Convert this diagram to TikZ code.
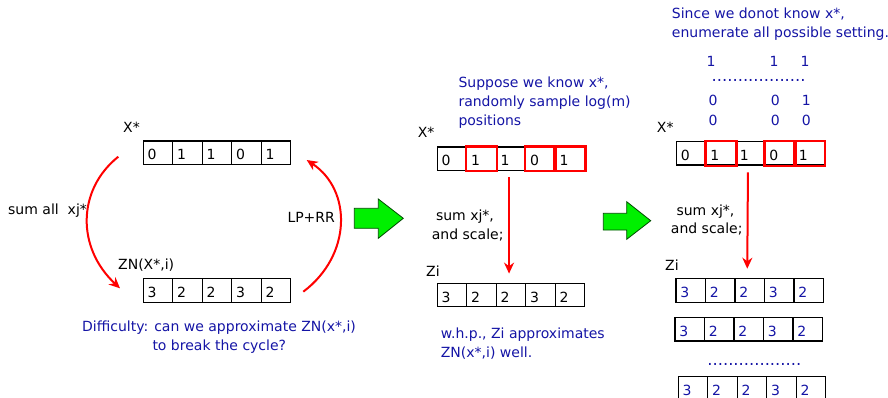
\documentclass[tikz,border=0pt]{standalone}
\usepackage{fontspec}
\setmainfont{DejaVu Sans}
\usetikzlibrary{arrows.meta}
\definecolor{txtblue}{RGB}{20,20,165}
\definecolor{arrgreen}{RGB}{0,240,0}
\definecolor{redline}{RGB}{255,0,0}
\begin{document}
\begin{tikzpicture}[x=1pt,y=-1pt,
  every node/.style={font=\fontsize{14}{19}\selectfont, inner sep=0pt},
  cell/.style={draw, line width=1.3pt, minimum width=29.5pt, minimum height=23.5pt,
    text width=21pt, align=left, inner xsep=4.25pt, inner ysep=0pt,
    text height=14.4pt, text depth=0pt},
  bluecell/.style={cell, text=txtblue},
  redbox/.style={draw=redline, line width=2.4pt},
  redarrow/.style={draw=redline, line width=2pt, -{Stealth[length=11pt,width=10pt]}},
  bigarrow/.style={draw=black!70!green, line width=0.8pt, fill=arrgreen},
  lbl/.style={anchor=base west},
  bluelbl/.style={anchor=base west, text=txtblue},
  dotsrow/.style={anchor=base west, text=txtblue, font=\fontsize{16.4}{19}\selectfont}
]
\useasboundingbox (0,0) rectangle (888,397);

% ---------------- left panel ----------------
\node[lbl] (LX) at (123,132.7) {X*};
\foreach \v [count=\i] in {0,1,1,0,1}
  \node[cell] (L1-\i) at ({158.05+29.5*(\i-1)},152.7) {\v};
\node[lbl] (LZN) at (118,269.3) {ZN(X*,i)};
\foreach \v [count=\i] in {3,2,2,3,2}
  \node[cell] (L2-\i) at ({158.05+29.5*(\i-1)},290.5) {\v};
\node[lbl] (Lsum) at (8,214) {sum all\ \ xj*};
\node[lbl] (Llp) at (287.3,222.7) {LP+RR};
\coordinate (La) at (118.3,156.7);
\coordinate (Lb) at (120,288.3);
\coordinate (Lc) at (303.3,291.7);
\coordinate (Ld) at (306.7,160);
\draw[redarrow] (La) .. controls (76.7,190) and (76.7,248) .. (Lb);
\draw[redarrow] (Lc) .. controls (352,255) and (352,190) .. (Ld);
\node[bluelbl] (Ldiff1) at (82,331.7) {Difficulty: can we approximate ZN(x*,i)};
\node[bluelbl] (Ldiff2) at (152.3,350) {to break the cycle?};

% ---------------- green arrows ----------------
\draw[bigarrow] (354.3,208.3) -- (378.3,208.3) -- (378.3,199) -- (403.3,218.3)
  -- (378.3,238.3) -- (378.3,228.3) -- (354.3,228.3) -- cycle;
\draw[bigarrow] (603.3,213.3) -- (626.7,213.3) -- (626.7,201.7) -- (650.7,220.7)
  -- (626.7,239.3) -- (626.7,230) -- (603.3,230) -- cycle;

% ---------------- middle panel ----------------
\node[bluelbl] (Ms1) at (458.3,87.3) {Suppose we know x*,};
\node[bluelbl] (Ms2) at (458.3,106) {randomly sample log(m)};
\node[bluelbl] (Ms3) at (458.3,125) {positions};
\node[lbl] (MX) at (417.7,137.3) {X*};
\foreach \v [count=\i] in {0,1,1,0,1}
  \node[cell] (M1-\i) at ({452.05+29.5*(\i-1)},158.7) {\v};
\foreach \i in {2,4,5}
  \draw[redbox] (M1-\i.north west) rectangle (M1-\i.south east);
\node[lbl] (MZi) at (426,276) {Zi};
\foreach \v [count=\i] in {3,2,2,3,2}
  \node[cell] (M2-\i) at ({452.05+29.5*(\i-1)},295) {\v};
\draw[redarrow] ([xshift=-2pt,yshift=-6pt]M1-3.south) -- ([xshift=-2pt,yshift=9pt]M2-3.north);
\node[anchor=base] (Msum1) at (465,220.7) {sum xj*,};
\node[anchor=base] (Msum2) at (467.7,239) {and scale;};
\node[bluelbl] (Mw1) at (440.7,338.3) {w.h.p., Zi approximates};
\node[bluelbl] (Mw2) at (440.7,357.7) {ZN(x*,i) well.};

% ---------------- right panel ----------------
\node[bluelbl] (Rs1) at (671.7,18.3) {Since we donot know x*,};
\node[bluelbl] (Rs2) at (671.7,37.3) {enumerate all possible setting.};
\node[bluelbl] (Rn11) at (706.5,66.7) {1};
\node[bluelbl] (Rn12) at (769.3,66.7) {1};
\node[bluelbl] (Rn13) at (800.3,66.7) {1};
\node[dotsrow] (Rdots1) at (711.5,81) {..................};
\node[bluelbl] (Rn21) at (708.3,105) {0};
\node[bluelbl] (Rn22) at (770.7,105) {0};
\node[bluelbl] (Rn23) at (801.7,105) {1};
\node[bluelbl] (Rn31) at (708.3,125) {0};
\node[bluelbl] (Rn32) at (770.7,125) {0};
\node[bluelbl] (Rn33) at (801.7,125) {0};
\node[lbl] (RX) at (656.7,132.7) {X*};
\foreach \v [count=\i] in {0,1,1,0,1}
  \node[cell] (R1-\i) at ({691.45+29.5*(\i-1)},153.3) {\v};
\foreach \i in {2,4,5}
  \draw[redbox] (R1-\i.north west) rectangle (R1-\i.south east);
\node[anchor=base] (Rsum1) at (705.5,215) {sum xj*,};
\node[anchor=base] (Rsum2) at (706.7,233.3) {and scale;};
\node[lbl] (RZi) at (665,270.7) {Zi};
\foreach \v [count=\i] in {3,2,2,3,2}
  \node[bluecell] (R2-\i) at ({690.75+29.5*(\i-1)},290.5) {\v};
\draw[redarrow] ([xshift=-2.5pt,yshift=-6.7pt]R1-3.south) -- ([xshift=-2.5pt,yshift=9.4pt]R2-3.north);
\foreach \v [count=\i] in {3,2,2,3,2}
  \node[bluecell] (R3-\i) at ({689.75+29.5*(\i-1)},329.3) {\v};
\node[dotsrow] (Rdots2) at (707.2,365) {..................};
\foreach \v [count=\i] in {3,2,2,3,2}
  \node[bluecell] (R4-\i) at ({693.05+29.5*(\i-1)},388.4) {\v};
\end{tikzpicture}
\end{document}
